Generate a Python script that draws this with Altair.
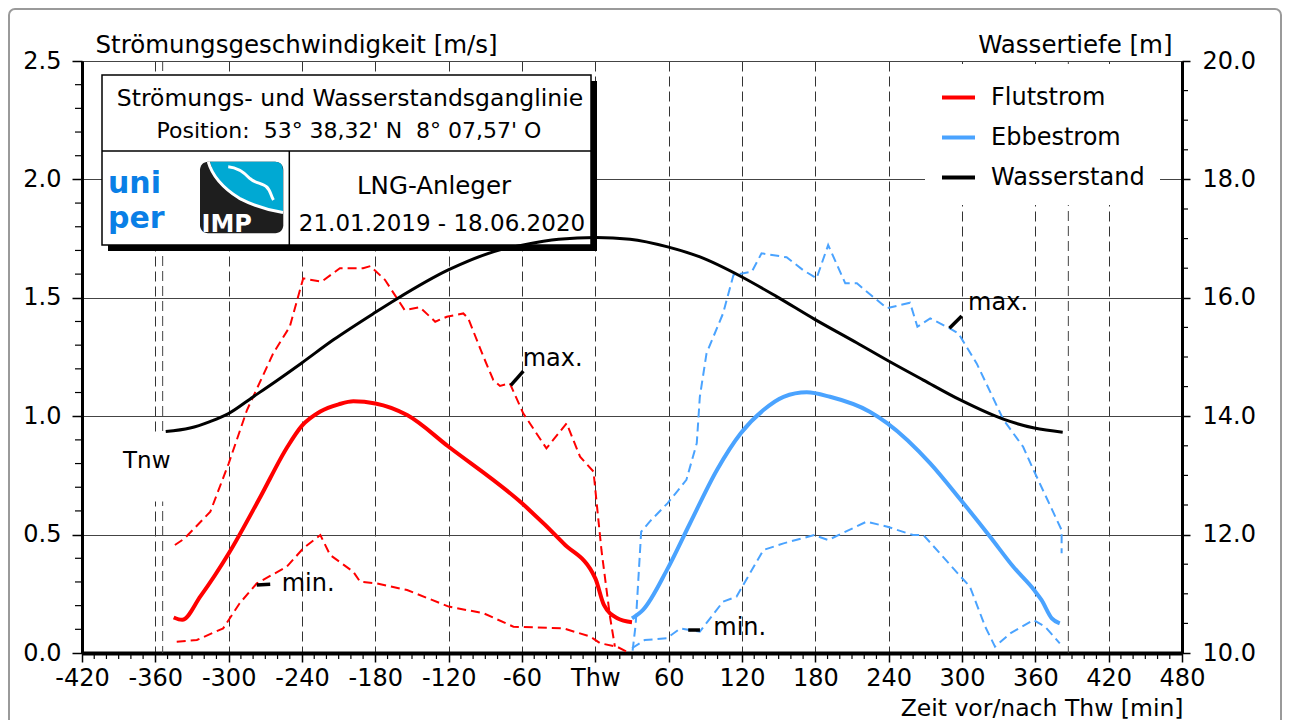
import altair as alt
import pandas as pd

FONT = "DejaVu Sans"
NB = "\u00a0"

# ---------------- data ----------------
series_names = ["Flutstrom", "Ebbestrom", "Wasserstand"]
series_colors = ["#ff0000", "#4aa3ff", "#000000"]

flut_mean_t = [-345, -338, -323, -300, -274, -252, -240, -225, -210, -198, -180, -154, -120, -60, -26, 0, 7, 18, 30]
flut_mean_v = [0.15, 0.14, 0.24, 0.42, 0.66, 0.87, 0.96, 1.02, 1.05, 1.063, 1.054, 1.005, 0.871, 0.632, 0.463, 0.315, 0.203, 0.147, 0.13]

flut_max_t = [-344, -336, -315, -300, -285, -263.5, -250, -239, -224, -209, -190, -184, -172, -156, -143.5, -131,
              -121.5, -108, -104, -91.5, -83.5, -78, -70, -59, -40, -23.5, -12.5, -1.5, 5, 12, 16]
flut_max_v = [0.456, 0.484, 0.597, 0.80, 1.026, 1.266, 1.378, 1.582, 1.568, 1.625, 1.625, 1.634, 1.575, 1.448, 1.46, 1.399,
              1.42, 1.434, 1.413, 1.251, 1.153, 1.128, 1.139, 1.012, 0.864, 0.97, 0.829, 0.766, 0.435, 0.153, 0.027]

flut_min_t = [-342.5, -326, -304.5, -291, -277, -252.5, -239, -225, -217, -198, -192.5, -179, -154, -120, -91.5, -67,
              -26, -4, 4, 17.5, 26]
flut_min_v = [0.048, 0.055, 0.104, 0.21, 0.294, 0.364, 0.442, 0.498, 0.414, 0.343, 0.301, 0.294, 0.266, 0.196, 0.168, 0.111,
              0.104, 0.069, 0.041, 0.027, 0.005]

ebbe_mean_t = [30, 39, 58.5, 77.5, 99.5, 119, 137.5, 154, 173, 192, 224.5, 239, 274, 299, 323, 342, 359, 365, 373.5, 380]
ebbe_mean_v = [0.146, 0.182, 0.35, 0.548, 0.773, 0.928, 1.026, 1.082, 1.101, 1.082, 1.019, 0.97, 0.801, 0.646, 0.491, 0.364,
               0.266, 0.224, 0.146, 0.125]

ebbe_max_t = [30.5, 33, 37.5, 44.5, 59, 74.5, 83, 85.5, 91, 104.5, 113, 128, 136, 156.5, 170, 181, 190.5, 204.5, 214,
              238.5, 257.5, 263.5, 274, 290, 297, 312, 334, 350, 358.5, 381.5, 381.5]
ebbe_max_v = [0.01, 0.12, 0.512, 0.555, 0.632, 0.731, 0.886, 1.082, 1.266, 1.434, 1.596, 1.61, 1.688, 1.671, 1.617, 1.582,
              1.723, 1.561, 1.561, 1.456, 1.479, 1.378, 1.413, 1.371, 1.35, 1.223, 0.984, 0.871, 0.773, 0.519, 0.421]

ebbe_min_t = [30, 40.5, 58.5, 69.5, 85.5, 104.5, 115.5, 137.5, 154, 179, 190.5, 222, 239, 260, 268.5, 299, 306.5, 319,
              327, 339.5, 358.5, 368, 380]
ebbe_min_v = [0.02, 0.055, 0.062, 0.104, 0.09, 0.217, 0.238, 0.435, 0.463, 0.498, 0.477, 0.555, 0.533, 0.498, 0.498,
              0.322, 0.28, 0.111, 0.027, 0.083, 0.139, 0.111, 0.041]

wst_t = [-351.5, -331.6, -315.3, -300.5, -279.8, -260.7, -240.2, -214.3, -180.3, -162.5, -120.3, -78, -60, -30, 0.5,
         28.4, 59.2, 85.6, 119.2, 148.4, 179.2, 213.8, 239.2, 268.4, 299, 333.8, 359.2, 382.4]
wst_d = [13.74, 13.80, 13.91, 14.04, 14.33, 14.60, 14.90, 15.29, 15.75, 15.98, 16.47, 16.81, 16.89, 16.99, 17.02,
         16.99, 16.86, 16.69, 16.36, 16.02, 15.64, 15.24, 14.94, 14.61, 14.27, 13.95, 13.80, 13.73]

tnw_marks = [-354, 387]

x_ticks = list(range(-420, 481, 60))
y_ticks = [0.0, 0.5, 1.0, 1.5, 2.0, 2.5]
d_ticks = [10, 12, 14, 16, 18, 20]
x_minor = [t for t in range(-420, 481, 10) if t % 60 != 0]
y_minor = [round(i * 0.1, 1) for i in range(1, 25) if i % 5 != 0]
d_minor = [10 + 0.5 * i for i in range(1, 20) if i % 4 != 0]

# annotation labels (data coordinates)
ann_label = ["max.", "min.", "max.", "min."]
ann_t = [-59.4, -256.6, 305, 96.5]
ann_v = [1.24, 0.291, 1.478, 0.106]
lead_t1 = [-69.2, -277, 289.7, 76]
lead_v1 = [1.13, 0.287, 1.371, 0.097]
lead_t2 = [-58.9, -266, 299.8, 85.6]
lead_v2 = [1.19, 0.29, 1.423, 0.097]

# ---------------- tables ----------------
def table(t, v, name, col="v"):
    return pd.DataFrame({"t": t, col: v, "series": name, "i": list(range(len(t)))})

mean_df = pd.concat([table(flut_mean_t, flut_mean_v, "Flutstrom"),
                     table(ebbe_mean_t, ebbe_mean_v, "Ebbestrom")])
red_dash_df = pd.concat([table(flut_max_t, flut_max_v, "Flut max"),
                         table(flut_min_t, flut_min_v, "Flut min")])
blue_dash_df = pd.concat([table(ebbe_max_t, ebbe_max_v, "Ebbe max"),
                          table(ebbe_min_t, ebbe_min_v, "Ebbe min")])
wst_df = table(wst_t, wst_d, "Wasserstand", col="d")
ann_df = pd.DataFrame({"t": ann_t, "v": ann_v, "label": ann_label})
lead_df = pd.DataFrame({"t": lead_t1, "v": lead_v1, "t2": lead_t2, "v2": lead_v2})
tnw_df = pd.DataFrame({"t": tnw_marks})
tnw_lbl = pd.DataFrame({"t": [-367], "v": [0.81], "label": ["Tnw"]})
tnw_box = pd.DataFrame({"t": [-390], "t2": [-347], "v": [0.64], "v2": [0.92]})
xminor_df = pd.DataFrame({"t": x_minor})
yminor_df = pd.DataFrame({"v": y_minor})
dminor_df = pd.DataFrame({"d": d_minor})
one = pd.DataFrame({"k": [0]})

# ---------------- scales / axes ----------------
x_scale = alt.Scale(domain=[-420, 480], nice=False, zero=False)
y_scale = alt.Scale(domain=[0, 2.5], nice=False)
d_scale = alt.Scale(domain=[10, 20], nice=False, zero=False)

x_axis = alt.Axis(values=x_ticks, labelExpr="datum.value === 0 ? 'Thw' : '' + datum.value",
                  title="Zeit vor/nach Thw [min]", titleX=1101, titleY=62, titleAlign="right",
                  titleBaseline="alphabetic", titleFontSize=23.5, grid=True, gridDash=[10, 5],
                  gridColor="#333333", gridWidth=1, tickSize=9, domainWidth=4, labelPadding=4,
                  labelFlush=False, labelOverlap=False)
y_axis = alt.Axis(values=y_ticks, format=".1f", title="Strömungsgeschwindigkeit [m/s]", titleAngle=0,
                  titleX=13, titleY=-16, titleAlign="left", titleBaseline="middle", grid=True,
                  gridColor="#444444", gridWidth=1, tickSize=10, domainWidth=3, labelPadding=11,
                  labelFlush=False, labelOverlap=False)
d_axis = alt.Axis(values=d_ticks, format=".1f", orient="right", title="Wassertiefe [m]", titleAngle=0,
                  titleX=-10, titleY=-16, titleAlign="right", titleBaseline="middle", grid=False,
                  tickSize=8, domainWidth=3, labelPadding=12, labelFlush=False, labelOverlap=False)


def X(f="t"):
    return alt.X(f, type="quantitative", scale=x_scale, axis=x_axis)


def Y(f="v"):
    return alt.Y(f, type="quantitative", scale=y_scale, axis=y_axis)


def D(f="d"):
    return alt.Y(f, type="quantitative", scale=d_scale, axis=d_axis)


color = alt.Color("series:N", scale=alt.Scale(domain=series_names, range=series_colors),
                  legend=alt.Legend(title=None, orient="none", legendX=843, legendY=3, symbolType="stroke",
                                    symbolSize=1089, symbolStrokeWidth=4, labelFontSize=24, labelFont=FONT,
                                    labelColor="black", labelOffset=14, rowPadding=9, fillColor="white",
                                    padding=15))

# ---------------- layers ----------------
tnw_rules = alt.Chart(tnw_df).mark_rule(color="#444444", strokeWidth=1, strokeDash=[10, 5]).encode(x=X())
tnw_white = alt.Chart(tnw_box).mark_rect(color="white").encode(x=X(), x2="t2", y=Y(), y2="v2")
tnw_text = alt.Chart(tnw_lbl).mark_text(font=FONT, fontSize=23, color="black", align="center",
                                         baseline="middle").encode(x=X(), y=Y(), text="label:N")

red_dash = alt.Chart(red_dash_df).mark_line(color="#ff0000", strokeWidth=2, strokeDash=[9, 5]).encode(
    x=X(), y=Y(), detail="series:N", order="i:Q")
blue_dash = alt.Chart(blue_dash_df).mark_line(color="#4aa3ff", strokeWidth=2, strokeDash=[9, 5]).encode(
    x=X(), y=Y(), detail="series:N", order="i:Q")
means = alt.Chart(mean_df).mark_line(strokeWidth=4, interpolate="monotone").encode(
    x=X(), y=Y(), color=color, detail="series:N", order="i:Q")

leaders = alt.Chart(lead_df).mark_rule(color="black", strokeWidth=3.5).encode(x=X(), x2="t2", y=Y(), y2="v2")
ann = alt.Chart(ann_df).mark_text(font=FONT, fontSize=24, color="black", align="left",
                                  baseline="middle").encode(x=X(), y=Y(), text="label:N")

xminor = alt.Chart(xminor_df).mark_rule(color="black", strokeWidth=1.2).encode(
    x=X(), y=alt.value(592), y2=alt.value(598))
yminor = alt.Chart(yminor_df).mark_rule(color="black", strokeWidth=1.2).encode(
    y=Y(), x=alt.value(-7), x2=alt.value(0))

# info box (pixel layout relative to the plot area)
shadow = alt.Chart(one).mark_rect(color="black").encode(
    x=alt.value(26), x2=alt.value(515), y=alt.value(20), y2=alt.value(190))
box = alt.Chart(one).mark_rect(fill="white", stroke="black", strokeWidth=1.5).encode(
    x=alt.value(20), x2=alt.value(509), y=alt.value(14), y2=alt.value(184))
hdiv = alt.Chart(one).mark_rule(color="black", strokeWidth=1.5).encode(
    x=alt.value(20), x2=alt.value(509), y=alt.value(90))
vdiv = alt.Chart(one).mark_rule(color="black", strokeWidth=1.5).encode(
    x=alt.value(207.3), y=alt.value(90), y2=alt.value(184))


def label(txt, x, y, size, **kw):
    return alt.Chart(one).mark_text(font=FONT, fontSize=size, color="black", align="center",
                                    baseline="middle", **kw).encode(
        x=alt.value(x), y=alt.value(y), text=alt.value(txt))


t1 = label("Strömungs- und Wasserstandsganglinie", 268, 38, 23.5)
t2 = label("Position:" + NB + NB + "53° 38,32' N" + NB + NB + "8° 07,57' O", 267, 70, 22)
t3 = label("LNG-Anleger", 352, 126, 24.5)
t4 = label("21.01.2019 - 18.06.2020", 360, 163, 23)


def logo_word(txt, y):
    return alt.Chart(one).mark_text(font="DejaVu Sans, sans-serif", fontSize=30, fontWeight="bold",
                                    color="#0a7fe6", align="left", baseline="alphabetic").encode(
        x=alt.value(26), y=alt.value(y), text=alt.value(txt))


uni = logo_word("uni", 132)
per = logo_word("per", 167)

imp_bg = alt.Chart(one).mark_rect(color="#1e1e1e", cornerRadius=8).encode(
    x=alt.value(118), x2=alt.value(201.3), y=alt.value(100.7), y2=alt.value(172.3))
cyan_path = ("M -0.76 -0.86 L 0.8 -0.86 Q 1 -0.86 1 -0.66 L 1 0.38 C 0.6 0.3 0.3 0.2 -0.04 0.06 "
             "C -0.3 -0.1 -0.55 -0.35 -0.64 -0.5 C -0.7 -0.65 -0.72 -0.75 -0.76 -0.86 Z")
imp_cyan = alt.Chart(one).mark_point(shape=cyan_path, filled=True, color="#00a9d3", opacity=1,
                                     strokeWidth=0).encode(
    x=alt.value(159.5), y=alt.value(136.5), size=alt.value(6889))
wave1_path = "M -0.8 -0.86 C -0.7 -0.5 -0.4 -0.2 -0.05 0.02 C 0.3 0.2 0.6 0.3 1 0.36"
wave2_path = ("M -0.32 -0.74 C -0.1 -0.72 0.05 -0.62 0.2 -0.46 C 0.3 -0.36 0.5 -0.34 0.6 -0.26 "
              "C 0.7 -0.18 0.7 -0.05 0.77 0.06")
imp_w1 = alt.Chart(one).mark_point(shape=wave1_path, filled=False, color="white", strokeWidth=3,
                                   opacity=1).encode(
    x=alt.value(159.5), y=alt.value(136.5), size=alt.value(6889))
imp_w2 = alt.Chart(one).mark_point(shape=wave2_path, filled=False, color="white", strokeWidth=3,
                                   opacity=1).encode(
    x=alt.value(159.5), y=alt.value(136.5), size=alt.value(6889))
imp_txt = alt.Chart(one).mark_text(font=FONT, fontSize=24, fontWeight="bold", color="white", align="left",
                                   baseline="alphabetic").encode(
    x=alt.value(119.5), y=alt.value(170.5), text=alt.value("IMP"))

frame = alt.Chart(one).mark_rect(fillOpacity=0, stroke="#9a9a9a", strokeWidth=2, cornerRadius=6).encode(
    x=alt.value(-73), x2=alt.value(1199), y=alt.value(-52), y2=alt.value(700))

inner = alt.layer(tnw_rules, tnw_white, tnw_text, red_dash, blue_dash, means, leaders, ann, xminor, yminor,
                  shadow, box, hdiv, vdiv, t1, t2, t3, t4, uni, per, imp_bg, imp_cyan, imp_w1, imp_w2,
                  imp_txt, frame)

wst_line = alt.Chart(wst_df).mark_line(strokeWidth=3, interpolate="monotone").encode(
    x=X(), y=D(), color=color, order="i:Q")
dminor = alt.Chart(dminor_df).mark_rule(color="black", strokeWidth=1.2).encode(
    y=D(), x=alt.value(1100), x2=alt.value(1106))
wst_group = alt.layer(wst_line, dminor)

chart = alt.layer(inner, wst_group).resolve_scale(y="independent").properties(
    width=1100, height=592,
    padding={"left": 74, "top": 53, "right": 100, "bottom": 67},
    autosize=alt.AutoSizeParams(type="none"),
    background="white",
).configure_view(stroke="#8b3a1a", strokeWidth=1).configure_axis(
    labelFont=FONT, labelFontSize=24, labelColor="black", titleFont=FONT, titleFontSize=24.5,
    titleFontWeight="normal", titleColor="black", domainColor="black", tickColor="black", tickWidth=1.5,
)

chart.save("out.html", embed_options={"renderer": "svg", "actions": False})
